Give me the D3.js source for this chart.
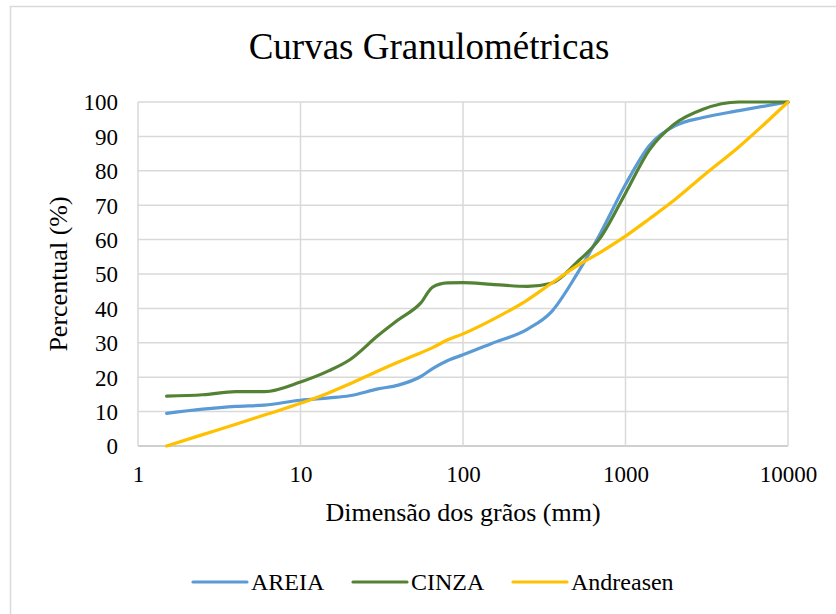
<!DOCTYPE html>
<html lang="pt">
<head>
    <meta charset="UTF-8">
    <title>Curvas Granulométricas</title>
    <script src="https://d3js.org/d3.v7.min.js"></script>
</head>
<body>
<style>
    body {
        margin: 0;
        background: #fff;
    }
</style>
<script>
    // dados
    var sizes = [1.5, 2.5, 4, 6, 10, 15, 20, 30, 40, 55, 65, 80, 100, 150, 250, 350, 500, 700, 1000, 1400, 2000, 3000, 5000, 10000];
    var areia = [9.5, 10.7, 11.5, 11.9, 13.3, 14.0, 14.6, 16.6, 17.7, 20.2, 22.5, 24.8, 26.5, 29.8, 34, 39, 49.8, 61.8, 76, 87.3, 93, 95.5, 97.5, 100];
    var cinza = [14.5, 14.9, 15.8, 15.8, 18.6, 21.9, 25, 32.1, 36.7, 41.6, 46.2, 47.4, 47.5, 47, 46.4, 47.3, 53.3, 60.5, 73.5, 86, 93.6, 97.9, 100, 100];
    var andreasen = [0, 3.3, 6.3, 9, 12.4, 15.5, 18, 21.8, 24.4, 27.1, 28.6, 30.8, 32.6, 36.6, 42.5, 47.3, 52.3, 56.3, 61, 66, 71.5, 78.5, 87, 100];
    var seriesNames = ["AREIA", "CINZA", "Andreasen"];
    var seriesColors = ["#5b9bd5", "#548235", "#ffc000"];
    var xTicks = [1, 10, 100, 1000, 10000];
    var yTicks = [0, 10, 20, 30, 40, 50, 60, 70, 80, 90, 100];

    var FONT = "'Liberation Serif', 'Times New Roman', 'DejaVu Serif', serif";
    var W = 836, H = 614;
    var plot = {left: 138, right: 788, top: 102, bottom: 446};

    var svg = d3.select("body").append("svg")
        .attr("width", W)
        .attr("height", H)
        .style("font-family", FONT);

    // moldura do gráfico
    svg.append("rect")
        .attr("x", 10.5).attr("y", 6.5)
        .attr("width", W).attr("height", H)
        .attr("fill", "none")
        .attr("stroke", "#d9d9d9")
        .attr("stroke-width", 1.5);

    var x = d3.scaleLog().domain([1, 10000]).range([plot.left, plot.right]);
    var y = d3.scaleLinear().domain([0, 100]).range([plot.bottom, plot.top]);

    // grade
    svg.append("g").selectAll("line")
        .data(yTicks).enter().append("line")
        .attr("x1", plot.left).attr("x2", plot.right)
        .attr("y1", function (d) { return y(d); })
        .attr("y2", function (d) { return y(d); })
        .attr("stroke", function (d) { return d == 0 ? "#bfbfbf" : "#d9d9d9"; })
        .attr("stroke-width", 1.5);

    svg.append("g").selectAll("line")
        .data(xTicks).enter().append("line")
        .attr("y1", plot.top).attr("y2", plot.bottom)
        .attr("x1", function (d) { return x(d); })
        .attr("x2", function (d) { return x(d); })
        .attr("stroke", "#d9d9d9")
        .attr("stroke-width", 1.5);

    // eixos
    var yAxis = svg.append("g")
        .attr("transform", "translate(" + (plot.left - 20) + ",0)")
        .call(d3.axisLeft(y).tickValues(yTicks).tickSize(0).tickPadding(0));
    yAxis.attr("font-family", null);
    yAxis.select(".domain").remove();
    yAxis.selectAll("text")
        .style("font-family", FONT)
        .style("font-size", "23px")
        .attr("fill", "#000")
        .attr("dy", "0.34em");

    var xAxis = svg.append("g")
        .attr("transform", "translate(0," + plot.bottom + ")")
        .call(d3.axisBottom(x).tickValues(xTicks).tickFormat(d3.format("d")).tickSize(0).tickPadding(0));
    xAxis.attr("font-family", null);
    xAxis.select(".domain").remove();
    xAxis.selectAll("text")
        .style("font-family", FONT)
        .style("font-size", "23px")
        .attr("fill", "#000")
        .attr("y", 36).attr("dy", 0);

    // curvas
    var line = d3.line()
        .x(function (d) { return x(d[0]); })
        .y(function (d) { return y(d[1]); })
        .curve(d3.curveMonotoneX);

    [areia, cinza, andreasen].forEach(function (vals, i) {
        svg.append("path")
            .datum(sizes.map(function (s, j) { return [s, vals[j]]; }))
            .attr("d", line)
            .attr("fill", "none")
            .attr("stroke", seriesColors[i])
            .attr("stroke-width", 3.2)
            .attr("stroke-linecap", "round")
            .attr("stroke-linejoin", "round");
    });

    // títulos
    svg.append("text")
        .attr("x", 429).attr("y", 59)
        .attr("text-anchor", "middle")
        .style("font-family", FONT)
        .style("font-size", "37px")
        .text("Curvas Granulométricas");

    svg.append("text")
        .attr("transform", "translate(67," + ((plot.top + plot.bottom) / 2) + ") rotate(-90)")
        .attr("text-anchor", "middle")
        .style("font-family", FONT)
        .style("font-size", "26px")
        .text("Percentual (%)");

    svg.append("text")
        .attr("x", 463).attr("y", 521)
        .attr("text-anchor", "middle")
        .style("font-family", FONT)
        .style("font-size", "26px")
        .text("Dimensão dos grãos (mm)");

    // legenda
    var legendX = [193, 353, 513];
    var legend = svg.append("g");
    seriesNames.forEach(function (name, i) {
        legend.append("line")
            .attr("x1", legendX[i]).attr("x2", legendX[i] + 54)
            .attr("y1", 582).attr("y2", 582)
            .attr("stroke", seriesColors[i])
            .attr("stroke-width", 3.2)
            .attr("stroke-linecap", "round");
        legend.append("text")
            .attr("x", legendX[i] + 58).attr("y", 590)
            .style("font-family", FONT)
            .style("font-size", "24px")
            .text(name);
    });
</script>
</body>
</html>
